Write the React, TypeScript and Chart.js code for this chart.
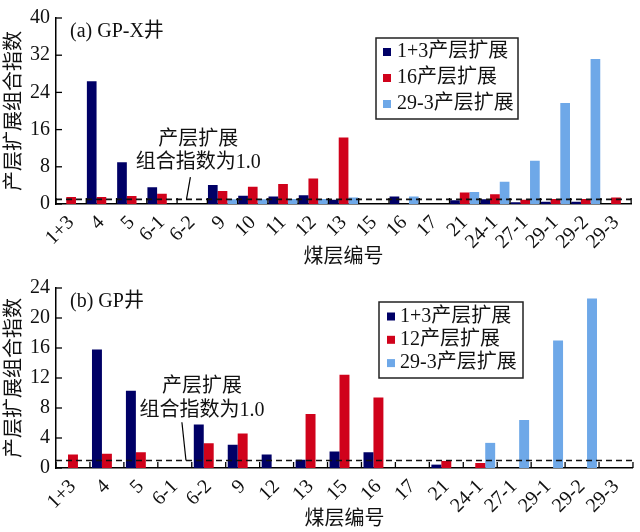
import React, { useEffect, useRef } from 'react';
import { Chart, registerables } from 'chart.js';
Chart.register(...registerables);

const NAVY = '#000066';
const RED = '#D0021B';
const LIGHT = '#6EA8E8';
const FONT = '"Liberation Serif", "Times New Roman", "Noto Sans CJK SC", serif';

// Panel (a) GP-X井
const catsA = ['1+3', '4', '5', '6-1', '6-2', '9', '10', '11', '12', '13', '15', '16', '17', '21', '24-1', '27-1', '29-1', '29-2', '29-3'];
const a13 = [null, 26.4, 9.0, 3.6, null, 4.1, 1.8, 1.6, 1.9, 0.9, null, 1.6, null, 0.8, 1.0, 0.4, 0.5, 0.5, null];
const a16 = [1.5, 1.5, 1.7, 2.2, null, 2.8, 3.7, 4.3, 5.5, 14.3, null, null, null, 2.5, 2.1, 0.9, 1.1, 1.1, 1.4];
const a293 = [null, null, null, null, null, 1.0, 1.0, 1.1, 1.1, 1.4, null, 1.6, null, 2.6, 4.8, 9.3, 21.7, 31.2, null];
const seriesA = ['1+3产层扩展', '16产层扩展', '29-3产层扩展'];

// Panel (b) GP井
const catsB = ['1+3', '4', '5', '6-1', '6-2', '9', '12', '13', '15', '16', '17', '21', '24-1', '27-1', '29-1', '29-2', '29-3'];
const b13 = [null, 15.8, 10.3, null, 5.8, 3.1, 1.8, 1.1, 2.2, 2.1, null, 0.45, null, null, null, null, null];
const b12 = [1.8, 1.9, 2.1, null, 3.3, 4.6, null, 7.2, 12.45, 9.4, null, 0.94, 0.67, null, null, null, null];
const b293 = [null, null, null, null, null, null, null, null, null, null, null, null, 3.35, 6.4, 17.0, 22.6, null];
const seriesB = ['1+3产层扩展', '12产层扩展', '29-3产层扩展'];

const REF_VALUE = 1.0;
const Y_TITLE = '产层扩展组合指数';
const X_TITLE = '煤层编号';
const NOTE = ['产层扩展', '组合指数为1.0'];

const decorPlugin = {
  id: 'decor',
  afterDatasetsDraw(chart: any, _args: any, opts: any) {
    const { ctx, chartArea: ca, scales } = chart;
    const x = scales.x;
    const y = scales.y;
    ctx.save();
    // dashed reference line
    const yr = y.getPixelForValue(REF_VALUE);
    ctx.setLineDash([6, 4]);
    ctx.strokeStyle = '#111';
    ctx.lineWidth = 1.6;
    ctx.beginPath();
    ctx.moveTo(ca.left, yr);
    ctx.lineTo(ca.right, yr);
    ctx.stroke();
    ctx.setLineDash([]);

    // inward ticks
    ctx.strokeStyle = '#000';
    ctx.lineWidth = 1.3;
    const n = chart.data.labels.length;
    for (let i = 0; i <= n; i++) {
      const px = x.getPixelForValue(i - 0.5);
      ctx.beginPath();
      ctx.moveTo(px, ca.bottom);
      ctx.lineTo(px, ca.bottom - 6);
      ctx.stroke();
    }
    y.ticks.forEach((t: any) => {
      const py = y.getPixelForValue(t.value);
      ctx.beginPath();
      ctx.moveTo(ca.left, py);
      ctx.lineTo(ca.left + 6, py);
      ctx.stroke();
    });

    // annotation
    const an = opts.note;
    ctx.fillStyle = '#111';
    ctx.font = `20px ${FONT}`;
    ctx.textAlign = 'center';
    ctx.textBaseline = 'middle';
    const cx = x.getPixelForValue(an.x);
    ctx.fillText(NOTE[0], cx, y.getPixelForValue(an.y1));
    ctx.fillText(NOTE[1], cx, y.getPixelForValue(an.y2));
    ctx.lineWidth = 1.2;
    ctx.beginPath();
    ctx.moveTo(x.getPixelForValue(an.from[0]), y.getPixelForValue(an.from[1]));
    ctx.lineTo(x.getPixelForValue(an.to[0]), y.getPixelForValue(an.to[1]));
    ctx.stroke();

    // panel label
    ctx.textAlign = 'left';
    ctx.fillText(opts.label, ca.left + 14, ca.top + 14);

    // legend
    const lg = opts.legend;
    const bx = ca.left + lg.dx;
    const by = ca.top + lg.dy;
    ctx.fillStyle = '#fff';
    ctx.fillRect(bx, by, lg.w, lg.h);
    ctx.strokeStyle = '#222';
    ctx.lineWidth = 1.5;
    ctx.strokeRect(bx, by, lg.w, lg.h);
    chart.data.datasets.forEach((ds: any, i: number) => {
      const ry = by + lg.first + i * lg.step;
      ctx.fillStyle = ds.backgroundColor;
      ctx.fillRect(bx + lg.mx, ry - 4, 8, 8);
      ctx.fillStyle = '#111';
      ctx.fillText(ds.label, bx + lg.tx, ry);
    });
    ctx.restore();
  },
};

function makeConfig(cats: string[], s: (number | null)[][], names: string[], yMax: number, step: number, catPct: number, padTop: number, xHeight: number, titlePadBottom: number, opts: any) {
  const colors = [NAVY, RED, LIGHT];
  return {
    type: 'bar',
    data: {
      labels: cats,
      datasets: s.map((d, i) => ({
        label: names[i],
        data: d,
        backgroundColor: colors[i],
        borderWidth: 0,
        categoryPercentage: catPct,
        barPercentage: 1.0,
      })),
    },
    options: {
      animation: false,
      responsive: true,
      maintainAspectRatio: false,
      devicePixelRatio: 1,
      layout: { padding: { top: padTop, right: 1, left: 0, bottom: 0 } },
      plugins: {
        legend: { display: false },
        tooltip: { enabled: false },
        decor: opts,
      },
      scales: {
        x: {
          grid: { display: false, drawTicks: false },
          border: { display: true, color: '#000', width: 1.5 },
          ticks: {
            autoSkip: false,
            minRotation: 45,
            maxRotation: 45,
            padding: 7,
            color: '#111',
            font: { family: FONT, size: 20 },
          },
          title: {
            display: true,
            text: X_TITLE,
            color: '#111',
            padding: { top: 0, bottom: titlePadBottom },
            font: { family: FONT, size: 20, lineHeight: 1.2 },
          },
          afterFit: (sc: any) => { sc.height = xHeight; },
        },
        y: {
          min: 0,
          max: yMax,
          grid: { display: false, drawTicks: false },
          border: { display: true, color: '#000', width: 1.5 },
          ticks: {
            stepSize: step,
            padding: 6,
            color: '#111',
            font: { family: FONT, size: 20 },
          },
          title: {
            display: true,
            text: Y_TITLE,
            color: '#111',
            padding: { top: 3, bottom: 0 },
            font: { family: FONT, size: 20, lineHeight: 1.2 },
          },
          afterFit: (sc: any) => { sc.width = 56; },
        },
      },
    },
    plugins: [decorPlugin],
  };
}

function Panel({ config, height }: { config: any; height: number }) {
  const ref = useRef<HTMLCanvasElement | null>(null);
  useEffect(() => {
    if (!ref.current) return;
    const chart = new Chart(ref.current, config);
    return () => chart.destroy();
  }, [config]);
  return (
    <div style={{ position: 'relative', width: 640, height }}>
      <canvas ref={ref} />
    </div>
  );
}

const configA = makeConfig(catsA, [a13, a16, a293], seriesA, 40, 8, 0.96, 18, 62, -4, {
  label: '(a) GP-X井',
  note: { x: 4.2, y1: 13.8, y2: 8.8, from: [3.94, 5.8], to: [3.81, 1.0] },
  legend: { dx: 320, dy: 20, w: 142, h: 81, first: 14, step: 26, mx: 7, tx: 21 },
});

const configB = makeConfig(catsB, [b13, b12, b293], seriesB, 24, 4, 0.88, 22, 64, 0, {
  label: '(b) GP井',
  note: { x: 3.8, y1: 10.8, y2: 7.7, from: [3.21, 6.1], to: [3.33, 1.0] },
  legend: { dx: 323, dy: 14, w: 144, h: 76, first: 14.5, step: 23.3, mx: 8, tx: 21 },
});

export default function App() {
  useEffect(() => {
    document.body.style.margin = '0';
    document.body.style.overflow = 'hidden';
    document.body.style.background = '#fff';
  }, []);
  return (
    <div style={{ width: 640, height: 532, background: '#fff' }}>
      <Panel config={configA} height={266} />
      <Panel config={configB} height={266} />
    </div>
  );
}
